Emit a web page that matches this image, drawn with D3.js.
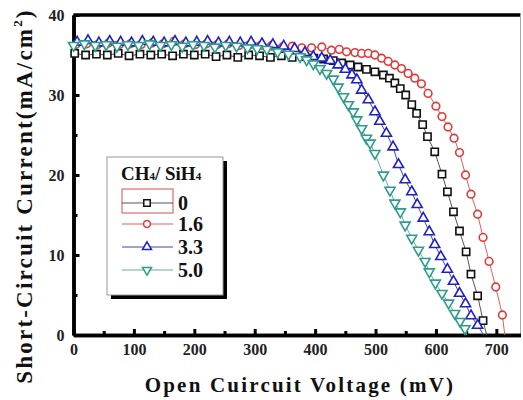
<!DOCTYPE html>
<html>
<head>
<meta charset="utf-8">
<script src="https://cdn.jsdelivr.net/npm/d3@7"></script>
<style>
  body { margin: 0; background: #fff; }
  text { font-family: "Liberation Serif", "DejaVu Serif", serif; font-weight: bold; }
</style>
</head>
<body>
<script>
// Chart data: [voltage (mV), current (mA/cm2)]
let seriesNames = ["0", "1.6", "3.3", "5.0"];

let black0 = [[2,35.2],[20,35.0],[38,35.1],[56,35.0],[74,35.2],[92,34.9],[110,35.1],[128,35.0],[146,35.1],[164,34.9],[182,35.1],[200,35.0],[218,35.1],[236,34.8],[254,35.0],[272,34.7],[290,35.0],[308,34.9],[326,34.7],[344,34.9],[362,34.7],[380,34.8],[398,34.6],[414,34.5],[430,34.3],
  [444,34.0],[458,33.75],[471,33.5],[485,33.2],[499,32.9],[513,32.5],[523,32.1],[532,31.5],[541,30.8],[550,30.0],[560,28.8],[568,27.7],[578,26.3],[586,24.8],[598,22.9],[610,20.1],[619,17.9],[629,15.4],[639,13.0],[650,10.4],[658,7.6],[669,4.9],[678,1.8]];

let red16 = [[4,36.3],[22,36.4],[40,36.3],[58,36.5],[76,36.3],[94,36.4],[112,36.3],[130,36.5],[148,36.4],[166,36.7],[184,36.4],[202,36.3],[220,36.4],[238,36.3],[256,36.4],[274,36.2],[292,36.3],[310,36.2],[328,36.2],[346,36.0],[362,36.1],[378,35.9],[394,35.9],
  [411,36.0],[427,35.6],[440,35.7],[452,35.4],[466,35.3],[477,35.2],[488,35.2],[499,35.0],[510,34.6],[521,34.2],[532,33.75],[543,33.3],[554,32.7],[565,32.1],[576,31.4],[587,30.2],[600,28.6],[610,27.3],[620,26.0],[630,24.6],[639,22.8],[649,20.0],[658,17.6],[669,15.1],[678,12.2],[688,9.2],[699,6.0],[710,2.5]];

let blue33 = [[6,36.6],[24,36.8],[42,36.5],[60,36.7],[78,36.6],[96,36.5],[114,36.7],[132,36.6],[150,36.5],[168,36.7],[186,36.5],[204,36.6],[222,36.7],[240,36.5],[258,36.6],[276,36.5],[294,36.6],[312,36.4],[330,36.3],[348,36.1],[366,35.8],
  [383,35.3],[397,34.8],[411,34.6],[425,34.3],[438,33.75],[450,33.2],[461,32.5],[469,31.9],[477,30.6],[488,29.4],[499,27.9],[507,26.7],[518,25.2],[529,23.5],[538,21.3],[549,19.4],[560,17.9],[569,16.3],[579,14.6],[589,12.9],[598,11.3],[608,9.8],[619,8.2],[629,6.7],[639,5.2],[649,3.9],[658,2.4],[669,1.2]];

let cyan50 = [[0,36.2],[18,36.4],[36,36.2],[54,36.3],[72,36.1],[90,36.3],[108,36.2],[126,36.4],[144,36.2],[162,36.3],[180,36.1],[198,36.3],[216,36.2],[234,36.0],[252,36.2],[270,36.1],[288,35.9],[304,35.8],[320,35.7],[338,35.4],[356,35.1],
  [375,34.8],[386,34.4],[397,33.9],[408,33.3],[419,32.7],[430,32.0],[438,31.0],[447,29.8],[455,28.8],[463,27.9],[469,26.9],[477,25.8],[485,24.6],[491,24.0],[499,22.7],[513,20.0],[524,18.1],[532,16.5],[541,15.4],[549,13.75],[560,12.1],[571,10.6],[582,9.2],[589,7.9],[599,6.5],[610,5.2],[621,4.0],[631,2.7],[640,1.7],[648,0.8]];

// open-circuit voltage where each line meets the x axis
let vocValues = [684, 714, 679, 651];

let xTicks = [0, 100, 200, 300, 400, 500, 600, 700];
let yTicks = [0, 10, 20, 30, 40];

let allSeries = [black0, red16, blue33, cyan50];
let markerColors = ["#111111", "#e03a3a", "#2020c8", "#2e9c8c"];
let lineColors = ["#555555", "#e06060", "#4040c0", "#60b0a0"];
let symbolTypes = [d3.symbolSquare, d3.symbolCircle, d3.symbolTriangle, d3.symbolTriangle];
let symbolSizes = [52, 46, 44, 44];
let symbolRotate = [0, 0, 0, 180];

let svgWidth = 523;
let svgHeight = 400;

let svg = d3.select("body")
  .append("svg")
  .attr("width", svgWidth)
  .attr("height", svgHeight);

// Scales
let xScale = d3.scaleLinear().domain([0, 740]).range([73.5, 520.5]);
let yScale = d3.scaleLinear().domain([0, 40]).range([335, 15]);

// Frame: top thick, right thin
svg.append("line")
  .attr("x1", xScale(0)).attr("x2", xScale(740))
  .attr("y1", yScale(40)).attr("y2", yScale(40))
  .attr("stroke", "#000").attr("stroke-width", 3.5);
svg.append("line")
  .attr("x1", xScale(740)).attr("x2", xScale(740))
  .attr("y1", yScale(40)).attr("y2", yScale(0))
  .attr("stroke", "#aaa").attr("stroke-width", 1);

// Axes (ticks inward)
let xAxis = d3.axisBottom(xScale).tickValues(xTicks).tickSizeInner(-6).tickSizeOuter(0).tickPadding(9);
let xMinor = d3.axisBottom(xScale).tickValues(d3.range(50, 740, 100)).tickSizeInner(-4).tickSizeOuter(0).tickFormat("");
let yAxis = d3.axisLeft(yScale).tickValues(yTicks).tickSizeInner(-6).tickSizeOuter(0).tickPadding(9);
let yMinor = d3.axisLeft(yScale).tickValues([5, 15, 25, 35]).tickSizeInner(-4).tickSizeOuter(0).tickFormat("");

let gx = svg.append("g").attr("transform", `translate(0, ${yScale(0)})`).call(xAxis);
svg.append("g").attr("transform", `translate(0, ${yScale(0)})`).call(xMinor);
let gy = svg.append("g").attr("transform", `translate(${xScale(0)}, 0)`).call(yAxis);
svg.append("g").attr("transform", `translate(${xScale(0)}, 0)`).call(yMinor);

svg.selectAll(".domain").attr("stroke", "#000").attr("stroke-width", 3.5);
svg.selectAll(".tick line").attr("stroke", "#000").attr("stroke-width", 3);
gx.selectAll("text").style("font-size", "16px").style("font-family", "Liberation Serif").style("font-weight", "bold").attr("fill", "#222");
gy.selectAll("text").style("font-size", "16px").style("font-family", "Liberation Serif").style("font-weight", "bold").attr("fill", "#222");

// Lines and markers
let line = d3.line().x(d => xScale(d[0])).y(d => yScale(d[1]));

allSeries.forEach(function(data, i) {
  svg.append("path")
    .datum(data.concat([[vocValues[i], 0]]))
    .attr("d", line)
    .attr("fill", "none")
    .attr("stroke", lineColors[i])
    .attr("stroke-width", 1);
});

allSeries.forEach(function(data, i) {
  let sym = d3.symbol().type(symbolTypes[i]).size(symbolSizes[i]);
  svg.append("g").selectAll("path")
    .data(data)
    .enter()
    .append("path")
    .attr("d", sym)
    .attr("transform", d => `translate(${xScale(d[0])}, ${yScale(d[1])}) rotate(${symbolRotate[i]})`)
    .attr("fill", "#fff")
    .attr("stroke", markerColors[i])
    .attr("stroke-width", 1.6);
});

// Legend
let legend = svg.append("g").attr("transform", "translate(107, 157)");
legend.append("rect").attr("x", 4).attr("y", 4).attr("width", 116).attr("height", 138).attr("fill", "#000");
legend.append("rect").attr("width", 116).attr("height", 138).attr("fill", "#fff").attr("stroke", "#999").attr("stroke-width", 1);

let title = legend.append("text").attr("x", 14).attr("y", 23).style("font-size", "19px").attr("fill", "#111");
title.append("tspan").text("CH");
title.append("tspan").text("4").style("font-size", "11px");
title.append("tspan").text("/ SiH");
title.append("tspan").text("4").style("font-size", "11px");

let rowY = [46, 67, 90, 113];
legend.append("rect")
  .attr("x", 15).attr("y", 32).attr("width", 51).attr("height", 24)
  .attr("fill", "none").attr("stroke", "#d05050").attr("stroke-width", 1);

seriesNames.forEach(function(name, i) {
  let row = legend.append("g").attr("transform", `translate(0, ${rowY[i]})`);
  row.append("line").attr("x1", 15).attr("x2", 66).attr("stroke", lineColors[i]).attr("stroke-width", 1);
  row.append("path")
    .attr("d", d3.symbol().type(symbolTypes[i]).size(symbolSizes[i] * 0.8))
    .attr("transform", `translate(40, 0) rotate(${symbolRotate[i]})`)
    .attr("fill", "#fff").attr("stroke", markerColors[i]).attr("stroke-width", 1.5);
  row.append("text").attr("x", 71).attr("y", 7).style("font-size", "20px").attr("fill", "#111").text(name);
});

// Axis titles
svg.append("text")
  .attr("x", 300).attr("y", 392)
  .style("text-anchor", "middle")
  .style("font-size", "21px")
  .style("letter-spacing", "2.2px")
  .attr("fill", "#111")
  .text("Open Cuircuit Voltage (mV)");

let yTitle = svg.append("text")
  .attr("transform", "translate(32, 196) rotate(-90)")
  .style("text-anchor", "middle")
  .style("font-size", "23px")
  .style("letter-spacing", "2.2px")
  .attr("fill", "#111");
yTitle.append("tspan").text("Short-Circuit Current(mA/cm");
yTitle.append("tspan").text("2").attr("dy", -10).style("font-size", "13px");
yTitle.append("tspan").text(")").attr("dy", 10);
</script>
</body>
</html>
